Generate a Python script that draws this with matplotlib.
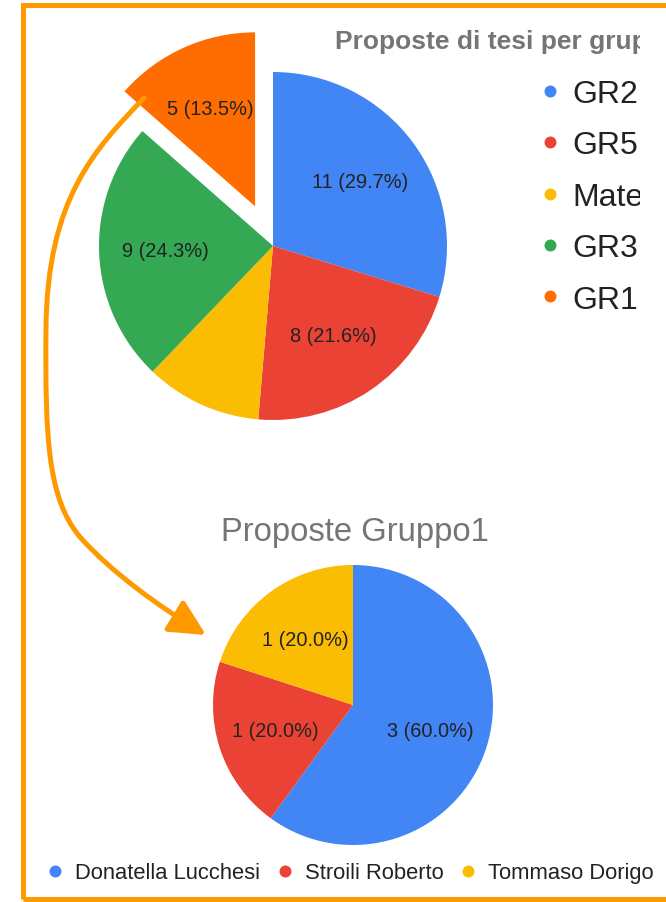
import matplotlib.pyplot as plt
from matplotlib.patches import FancyArrowPatch, Rectangle
from matplotlib.path import Path
from matplotlib.lines import Line2D
from matplotlib.transforms import Bbox, TransformedBbox

plt.rcParams['font.family'] = ['Liberation Sans', 'DejaVu Sans']

# data
groups = ['GR2', 'GR5', 'Mate', 'GR3', 'GR1']
group_counts = [11, 8, 4, 9, 5]
group_colors = ['#4285F4', '#EA4335', '#FBBC04', '#34A853', '#FF6D01']

people = ['Donatella Lucchesi', 'Stroili Roberto', 'Tommaso Dorigo']
people_counts = [3, 1, 1]
people_colors = ['#4285F4', '#EA4335', '#FBBC04']

W, H = 666, 903
fig = plt.figure(figsize=(W / 100, H / 100), dpi=100)


def px_axes(cx, cy, half):
    # square axes centred on a pixel position (y from the top)
    return fig.add_axes([(cx - half) / W, (H - cy - half) / H, 2 * half / W, 2 * half / H])


def make_pct(counts, min_pct=0):
    total = sum(counts)

    def fmt(p):
        if p < min_pct:
            return ''
        return f'{round(p * total / 100)} ({p:.1f}%)'
    return fmt


def dot(c):
    return Line2D([], [], marker='o', ls='none', markersize=8.6,
                  markerfacecolor=c, markeredgewidth=0)


label_style = dict(fontsize=14.4, color='#222222')

# top pie
ax1 = px_axes(273, 247, 1.4 * 174)
ax1.pie(group_counts, colors=group_colors, startangle=90, counterclock=False,
        explode=[0, 0, 0, 0, 0.25], autopct=make_pct(group_counts, 12),
        pctdistance=0.62, textprops=label_style, wedgeprops=dict(linewidth=0))
ax1.set_xlim(-1.4, 1.4)
ax1.set_ylim(-1.4, 1.4)
ax1.axis('off')

# the top chart is cut off on the right
clip = TransformedBbox(Bbox.from_extents(0, 0, 640 / W, 1), fig.transFigure)

t = fig.text(335 / W, 1 - 42 / H, 'Proposte di tesi per gruppo', fontsize=19,
             fontweight='bold', color='#757575', ha='left', va='center')
t.set_clip_box(clip)
t.set_clip_on(True)

leg1 = fig.legend([dot(c) for c in group_colors], groups, loc='upper left',
                  bbox_to_anchor=(543.6 / W, 1 - 80 / H), frameon=False,
                  fontsize=23, handlelength=0.4, handletextpad=0.49,
                  labelspacing=0.67, borderpad=0, borderaxespad=0)
for txt in leg1.get_texts():
    txt.set_color('#222222')
    txt.set_clip_box(clip)
    txt.set_clip_on(True)

# bottom pie
fig.text(355 / W, 1 - 532 / H, 'Proposte Gruppo1', fontsize=23.6,
         color='#757575', ha='center', va='center')

ax2 = px_axes(353, 706, 1.3 * 140)
ax2.pie(people_counts, colors=people_colors, startangle=90, counterclock=False,
        autopct=make_pct(people_counts), pctdistance=0.58,
        textprops=label_style, wedgeprops=dict(linewidth=0))
ax2.set_xlim(-1.3, 1.3)
ax2.set_ylim(-1.3, 1.3)
ax2.axis('off')

leg2 = fig.legend([dot(c) for c in people_colors], people, loc='center',
                  bbox_to_anchor=(351.5 / W, 1 - 874 / H), ncol=3, frameon=False,
                  fontsize=15.8, handlelength=0.5, handletextpad=0.66,
                  columnspacing=0.89, borderpad=0, borderaxespad=0)
for txt in leg2.get_texts():
    txt.set_color('#222222')

# orange arrow from GR1 slice down to the second chart
pts = [(144, 99),
       (95, 150), (47, 200), (46, 330),
       (45, 440), (48, 500), (80, 538),
       (112, 574), (160, 608), (206, 636)]
verts = [(x / W, 1 - y / H) for x, y in pts]
codes = [Path.MOVETO] + [Path.CURVE4] * 9
arrow = FancyArrowPatch(path=Path(verts, codes), transform=fig.transFigure,
                        arrowstyle='-|>,head_length=2.2,head_width=1.1',
                        mutation_scale=10, lw=3.6, color='#FF9900', zorder=10)
fig.add_artist(arrow)

# orange frame
frame = Rectangle((22.5 / W, 1 - 899.5 / H), (700 - 22.5) / W, (899.5 - 5.5) / H,
                  transform=fig.transFigure, fill=False, ec='#FF9900', lw=3.6,
                  clip_on=False)
fig.add_artist(frame)

fig.savefig('out.png', dpi=100)
